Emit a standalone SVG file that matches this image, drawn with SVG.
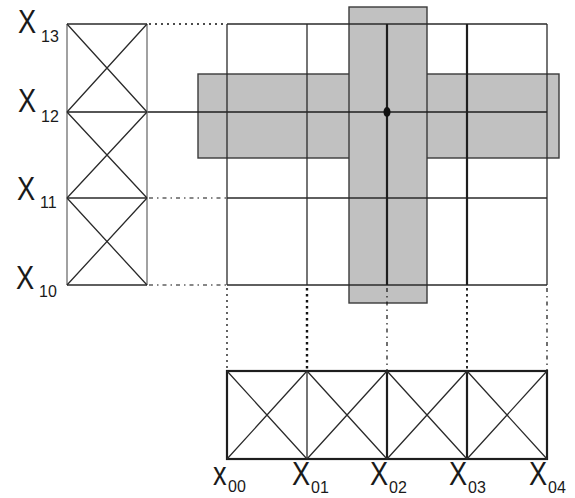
<svg xmlns="http://www.w3.org/2000/svg" width="575" height="498" viewBox="0 0 575 498">
<style>
.ln{stroke:#2a2a2a;stroke-width:1.3;fill:none}
.thk{stroke:#1e1e1e;stroke-width:2.2;fill:none}
.gry{stroke:#8a8a8a;stroke-width:1.6;fill:none}
.shade{fill:#c1c1c1;stroke:#3a3a3a;stroke-width:1.4}
.dot{stroke:#111;stroke-width:1.3;fill:none;stroke-dasharray:2 4}
.dotb{stroke:#111;stroke-width:2.4;fill:none;stroke-dasharray:2.5 3.5}
.dd{stroke:#111;stroke-width:1.2;fill:none;stroke-dasharray:4 4 1.5 4}
.big{font-family:"Liberation Sans",Arial,sans-serif;font-size:34px;fill:#1a1a1a}
.sub{font-family:"Liberation Sans",Arial,sans-serif;font-size:16px;fill:#1a1a1a}
</style>
<g id="shading">
<rect class="shade" x="198" y="74" width="361" height="84"/>
<rect class="shade" x="349" y="7" width="78" height="296"/>
</g>
<g id="grid">
<line class="ln" x1="227" y1="24" x2="547" y2="24"/>
<line class="thk" x1="147" y1="112" x2="547" y2="112" style="stroke-width:1.6"/>
<line class="ln" x1="227" y1="198" x2="547" y2="198"/>
<line class="ln" x1="227" y1="285" x2="547" y2="285"/>
<line class="ln" x1="227" y1="24" x2="227" y2="285"/>
<line class="ln" x1="307" y1="24" x2="307" y2="285"/>
<line class="thk" x1="387" y1="24" x2="387" y2="285"/>
<line class="thk" x1="467" y1="24" x2="467" y2="285"/>
<line class="ln" x1="547" y1="24" x2="547" y2="285"/>
<ellipse cx="387" cy="112" rx="3.5" ry="5" fill="#111"/>
</g>
<g id="left-column">
<line class="gry" x1="67" y1="24" x2="67" y2="285"/>
<line class="gry" x1="147" y1="24" x2="147" y2="285"/>
<line class="ln" x1="67" y1="24" x2="147" y2="24"/>
<line class="thk" x1="67" y1="112" x2="147" y2="112" style="stroke-width:1.6"/>
<line class="ln" x1="67" y1="198" x2="147" y2="198"/>
<line class="ln" x1="67" y1="285" x2="147" y2="285"/>
<path class="ln" d="M67 24L147 112M147 24L67 112M67 112L147 198M147 112L67 198M67 198L147 285M147 198L67 285"/>
</g>
<g id="bottom-truss">
<rect class="thk" x="227" y="371" width="320" height="88"/>
<line class="ln" x1="307" y1="371" x2="307" y2="459"/>
<line class="thk" x1="387" y1="371" x2="387" y2="459"/>
<line class="thk" x1="467" y1="371" x2="467" y2="459"/>
<path class="ln" d="M227 371L307 459M307 371L227 459M307 371L387 459M387 371L307 459M387 371L467 459M467 371L387 459M467 371L547 459M547 371L467 459"/>
</g>
<g id="connectors">
<line class="dot" x1="149" y1="24" x2="226" y2="24"/>
<line class="dd" x1="149" y1="198" x2="226" y2="198"/>
<line class="dd" x1="149" y1="285" x2="226" y2="285"/>
<line class="dot" x1="227" y1="288" x2="227" y2="370"/>
<line class="dotb" x1="307" y1="288" x2="307" y2="370"/>
<line class="dd" x1="387" y1="288" x2="387" y2="370"/>
<line class="dotb" x1="467" y1="288" x2="467" y2="370" style="stroke-width:1.8"/>
<line class="dd" x1="547" y1="288" x2="547" y2="370"/>
</g>
<g id="labels">
<text class="big" transform="translate(18,33) scale(0.8,1)">X</text><text class="sub" x="41" y="42">13</text>
<text class="big" transform="translate(18,112) scale(0.8,1)">X</text><text class="sub" x="41" y="122">12</text>
<text class="big" transform="translate(17,200) scale(0.8,1)">X</text><text class="sub" x="40" y="208">11</text>
<text class="big" transform="translate(16,289) scale(0.8,1)">X</text><text class="sub" x="39" y="297">10</text>
<text class="big" transform="translate(213,485) scale(0.8,1)">x</text><text class="sub" x="228" y="492">00</text>
<text class="big" transform="translate(292,485) scale(0.8,1)">X</text><text class="sub" x="311" y="493">01</text>
<text class="big" transform="translate(370,485) scale(0.8,1)">X</text><text class="sub" x="389" y="493">02</text>
<text class="big" transform="translate(449,485) scale(0.8,1)">X</text><text class="sub" x="468" y="493">03</text>
<text class="big" transform="translate(529,485) scale(0.8,1)">X</text><text class="sub" x="548" y="493">04</text>
</g>
</svg>
